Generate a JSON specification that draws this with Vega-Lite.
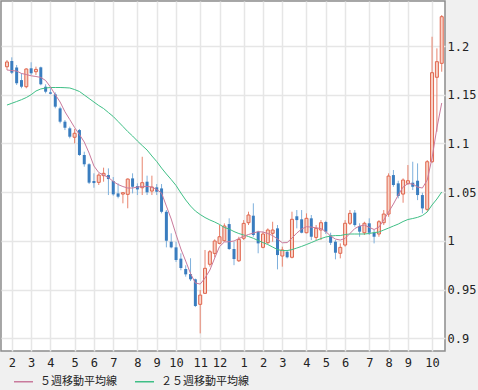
{
  "$schema": "https://vega.github.io/schema/vega-lite/v6.json",
  "width": 444,
  "height": 350,
  "autosize": {"type": "none"},
  "padding": {"left": 1, "top": 1, "right": 33, "bottom": 39},
  "background": "#f0f0f0",
  "config": {
    "view": {"fill": "white", "stroke": "#8c8c8c", "strokeWidth": 1.5},
    "axis": {"labelFont": "DejaVu Sans Mono", "labelFontSize": 12, "labelColor": "#222222", "gridColor": "#e6e6e6", "gridWidth": 1.5, "domain": false, "ticks": false, "tickSize": 0, "title": null}
  },
  "data": {
    "format": {"parse": {"d": "utc:'%Y-%m-%d'"}},
    "values": [
      {"d":"2007-01-29","o":1.1787,"h":1.1856,"l":1.1754,"c":1.1836,"m5":1.1754,"m25":1.1394},
      {"d":"2007-02-05","o":1.1846,"h":1.1884,"l":1.1712,"c":1.1726,"m5":1.1748,"m25":1.1412},
      {"d":"2007-02-12","o":1.1780,"h":1.1805,"l":1.1600,"c":1.1617,"m5":1.1743,"m25":1.1430},
      {"d":"2007-02-19","o":1.1650,"h":1.1720,"l":1.1566,"c":1.1582,"m5":1.1718,"m25":1.1449},
      {"d":"2007-02-26","o":1.1582,"h":1.1771,"l":1.1566,"c":1.1764,"m5":1.1707,"m25":1.1471},
      {"d":"2007-03-05","o":1.1771,"h":1.1833,"l":1.1702,"c":1.1720,"m5":1.1694,"m25":1.1500},
      {"d":"2007-03-12","o":1.1736,"h":1.1788,"l":1.1702,"c":1.1760,"m5":1.1687,"m25":1.1538},
      {"d":"2007-03-19","o":1.1781,"h":1.1788,"l":1.1597,"c":1.1607,"m5":1.1677,"m25":1.1559},
      {"d":"2007-03-26","o":1.1582,"h":1.1607,"l":1.1514,"c":1.1531,"m5":1.1646,"m25":1.1569},
      {"d":"2007-04-02","o":1.1524,"h":1.1566,"l":1.1504,"c":1.1510,"m5":1.1579,"m25":1.1574},
      {"d":"2007-04-09","o":1.1504,"h":1.1524,"l":1.1360,"c":1.1377,"m5":1.1500,"m25":1.1574},
      {"d":"2007-04-16","o":1.1360,"h":1.1377,"l":1.1206,"c":1.1223,"m5":1.1425,"m25":1.1574},
      {"d":"2007-04-23","o":1.1223,"h":1.1240,"l":1.1137,"c":1.1161,"m5":1.1325,"m25":1.1572},
      {"d":"2007-04-30","o":1.1155,"h":1.1172,"l":1.1052,"c":1.1069,"m5":1.1245,"m25":1.1569},
      {"d":"2007-05-07","o":1.1063,"h":1.1148,"l":1.1001,"c":1.1104,"m5":1.1163,"m25":1.1553},
      {"d":"2007-05-14","o":1.1137,"h":1.1148,"l":1.0872,"c":1.0881,"m5":1.1091,"m25":1.1533},
      {"d":"2007-05-21","o":1.0881,"h":1.0915,"l":1.0761,"c":1.0786,"m5":1.1014,"m25":1.1497},
      {"d":"2007-05-28","o":1.0786,"h":1.0797,"l":1.0583,"c":1.0597,"m5":1.0901,"m25":1.1461},
      {"d":"2007-06-04","o":1.0614,"h":1.0693,"l":1.0545,"c":1.0593,"m5":1.0768,"m25":1.1425},
      {"d":"2007-06-11","o":1.0600,"h":1.0693,"l":1.0573,"c":1.0675,"m5":1.0701,"m25":1.1389},
      {"d":"2007-06-18","o":1.0669,"h":1.0751,"l":1.0607,"c":1.0693,"m5":1.0675,"m25":1.1358},
      {"d":"2007-06-25","o":1.0675,"h":1.0744,"l":1.0470,"c":1.0634,"m5":1.0650,"m25":1.1317},
      {"d":"2007-07-02","o":1.0614,"h":1.0655,"l":1.0463,"c":1.0477,"m5":1.0609,"m25":1.1276},
      {"d":"2007-07-09","o":1.0487,"h":1.0590,"l":1.0436,"c":1.0453,"m5":1.0578,"m25":1.1225},
      {"d":"2007-07-16","o":1.0480,"h":1.0497,"l":1.0385,"c":1.0494,"m5":1.0557,"m25":1.1174},
      {"d":"2007-07-23","o":1.0477,"h":1.0641,"l":1.0334,"c":1.0634,"m5":1.0542,"m25":1.1122},
      {"d":"2007-07-30","o":1.0641,"h":1.0693,"l":1.0487,"c":1.0555,"m5":1.0542,"m25":1.1076},
      {"d":"2007-08-06","o":1.0562,"h":1.0590,"l":1.0470,"c":1.0528,"m5":1.0552,"m25":1.1025},
      {"d":"2007-08-13","o":1.0545,"h":1.0863,"l":1.0470,"c":1.0597,"m5":1.0557,"m25":1.0978},
      {"d":"2007-08-20","o":1.0607,"h":1.0669,"l":1.0470,"c":1.0498,"m5":1.0559,"m25":1.0932},
      {"d":"2007-08-27","o":1.0511,"h":1.0669,"l":1.0470,"c":1.0552,"m5":1.0552,"m25":1.0871},
      {"d":"2007-09-03","o":1.0549,"h":1.0583,"l":1.0470,"c":1.0504,"m5":1.0527,"m25":1.0814},
      {"d":"2007-09-10","o":1.0538,"h":1.0583,"l":1.0282,"c":1.0298,"m5":1.0491,"m25":1.0747},
      {"d":"2007-09-17","o":1.0298,"h":1.0316,"l":0.9933,"c":1.0001,"m5":1.0357,"m25":1.0686},
      {"d":"2007-09-24","o":0.9991,"h":1.0077,"l":0.9923,"c":0.9933,"m5":1.0224,"m25":1.0629},
      {"d":"2007-10-01","o":0.9933,"h":0.9991,"l":0.9783,"c":0.9803,"m5":1.0065,"m25":1.0568},
      {"d":"2007-10-08","o":0.9817,"h":0.9872,"l":0.9698,"c":0.9721,"m5":0.9916,"m25":1.0491},
      {"d":"2007-10-15","o":0.9711,"h":0.9749,"l":0.9632,"c":0.9656,"m5":0.9792,"m25":1.0419},
      {"d":"2007-10-22","o":0.9659,"h":0.9821,"l":0.9587,"c":0.9605,"m5":0.9664,"m25":1.0357},
      {"d":"2007-10-29","o":0.9605,"h":0.9612,"l":0.9320,"c":0.9331,"m5":0.9567,"m25":1.0306},
      {"d":"2007-11-05","o":0.9348,"h":0.9495,"l":0.9050,"c":0.9443,"m5":0.9556,"m25":1.0270},
      {"d":"2007-11-12","o":0.9461,"h":0.9906,"l":0.9454,"c":0.9718,"m5":0.9618,"m25":1.0239},
      {"d":"2007-11-19","o":0.9759,"h":0.9906,"l":0.9735,"c":0.9888,"m5":0.9700,"m25":1.0214},
      {"d":"2007-11-26","o":0.9871,"h":1.0015,"l":0.9831,"c":0.9998,"m5":0.9823,"m25":1.0193},
      {"d":"2007-12-03","o":0.9974,"h":1.0162,"l":0.9965,"c":1.0042,"m5":0.9941,"m25":1.0168},
      {"d":"2007-12-10","o":1.0001,"h":1.0179,"l":0.9991,"c":1.0152,"m5":0.9988,"m25":1.0137},
      {"d":"2007-12-17","o":1.0172,"h":1.0231,"l":0.9906,"c":0.9916,"m5":0.9991,"m25":1.0121},
      {"d":"2007-12-24","o":0.9916,"h":0.9991,"l":0.9750,"c":0.9813,"m5":0.9998,"m25":1.0095},
      {"d":"2007-12-31","o":0.9795,"h":1.0042,"l":0.9783,"c":1.0015,"m5":1.0023,"m25":1.0075},
      {"d":"2008-01-07","o":1.0026,"h":1.0213,"l":1.0008,"c":1.0179,"m5":1.0046,"m25":1.0060},
      {"d":"2008-01-14","o":1.0186,"h":1.0299,"l":1.0162,"c":1.0265,"m5":1.0065,"m25":1.0044},
      {"d":"2008-01-21","o":1.0258,"h":1.0385,"l":1.0042,"c":1.0060,"m5":1.0080,"m25":1.0026},
      {"d":"2008-01-28","o":1.0094,"h":1.0104,"l":0.9872,"c":0.9974,"m5":1.0094,"m25":1.0003},
      {"d":"2008-02-04","o":0.9933,"h":1.0094,"l":0.9923,"c":1.0070,"m5":1.0090,"m25":0.9982},
      {"d":"2008-02-11","o":0.9981,"h":1.0128,"l":0.9967,"c":1.0111,"m5":1.0075,"m25":0.9962},
      {"d":"2008-02-18","o":1.0077,"h":1.0196,"l":0.9991,"c":1.0111,"m5":1.0054,"m25":0.9936},
      {"d":"2008-02-25","o":1.0128,"h":1.0162,"l":0.9707,"c":0.9854,"m5":1.0018,"m25":0.9910},
      {"d":"2008-03-03","o":0.9844,"h":0.9940,"l":0.9735,"c":0.9906,"m5":0.9980,"m25":0.9900},
      {"d":"2008-03-10","o":0.9888,"h":0.9906,"l":0.9820,"c":0.9831,"m5":0.9982,"m25":0.9900},
      {"d":"2008-03-17","o":0.9831,"h":1.0299,"l":0.9820,"c":1.0221,"m5":1.0028,"m25":0.9910},
      {"d":"2008-03-24","o":1.0252,"h":1.0316,"l":1.0128,"c":1.0213,"m5":1.0080,"m25":0.9926},
      {"d":"2008-03-31","o":1.0221,"h":1.0316,"l":1.0077,"c":1.0083,"m5":1.0121,"m25":0.9943},
      {"d":"2008-04-07","o":1.0083,"h":1.0282,"l":1.0077,"c":1.0231,"m5":1.0145,"m25":0.9962},
      {"d":"2008-04-14","o":1.0231,"h":1.0265,"l":1.0008,"c":1.0042,"m5":1.0141,"m25":0.9982},
      {"d":"2008-04-21","o":1.0035,"h":1.0162,"l":1.0008,"c":1.0128,"m5":1.0133,"m25":1.0003},
      {"d":"2008-04-28","o":1.0111,"h":1.0213,"l":1.0008,"c":1.0186,"m5":1.0126,"m25":1.0023},
      {"d":"2008-05-05","o":1.0193,"h":1.0206,"l":1.0070,"c":1.0094,"m5":1.0095,"m25":1.0039},
      {"d":"2008-05-12","o":1.0056,"h":1.0083,"l":0.9957,"c":0.9980,"m5":1.0049,"m25":1.0049},
      {"d":"2008-05-19","o":0.9991,"h":1.0008,"l":0.9810,"c":0.9878,"m5":1.0018,"m25":1.0054},
      {"d":"2008-05-26","o":0.9872,"h":0.9974,"l":0.9820,"c":0.9933,"m5":1.0008,"m25":1.0054},
      {"d":"2008-06-02","o":0.9957,"h":1.0213,"l":0.9940,"c":1.0180,"m5":1.0025,"m25":1.0065},
      {"d":"2008-06-09","o":1.0180,"h":1.0316,"l":1.0162,"c":1.0282,"m5":1.0075,"m25":1.0070},
      {"d":"2008-06-16","o":1.0289,"h":1.0316,"l":1.0145,"c":1.0162,"m5":1.0126,"m25":1.0070},
      {"d":"2008-06-23","o":1.0152,"h":1.0180,"l":1.0042,"c":1.0094,"m5":1.0152,"m25":1.0070},
      {"d":"2008-06-30","o":1.0083,"h":1.0196,"l":1.0060,"c":1.0180,"m5":1.0162,"m25":1.0070},
      {"d":"2008-07-07","o":1.0180,"h":1.0231,"l":1.0060,"c":1.0083,"m5":1.0138,"m25":1.0075},
      {"d":"2008-07-14","o":1.0083,"h":1.0111,"l":0.9974,"c":1.0042,"m5":1.0116,"m25":1.0085},
      {"d":"2008-07-21","o":1.0070,"h":1.0213,"l":1.0042,"c":1.0196,"m5":1.0141,"m25":1.0090},
      {"d":"2008-07-28","o":1.0186,"h":1.0316,"l":1.0162,"c":1.0275,"m5":1.0213,"m25":1.0111},
      {"d":"2008-08-04","o":1.0275,"h":1.0693,"l":1.0247,"c":1.0665,"m5":1.0296,"m25":1.0131},
      {"d":"2008-08-11","o":1.0675,"h":1.0727,"l":1.0555,"c":1.0573,"m5":1.0378,"m25":1.0152},
      {"d":"2008-08-18","o":1.0590,"h":1.0617,"l":1.0436,"c":1.0460,"m5":1.0470,"m25":1.0172},
      {"d":"2008-08-25","o":1.0480,"h":1.0641,"l":1.0391,"c":1.0624,"m5":1.0552,"m25":1.0198},
      {"d":"2008-09-01","o":1.0590,"h":1.0778,"l":1.0573,"c":1.0617,"m5":1.0588,"m25":1.0219},
      {"d":"2008-09-08","o":1.0597,"h":1.0812,"l":1.0521,"c":1.0555,"m5":1.0583,"m25":1.0229},
      {"d":"2008-09-15","o":1.0617,"h":1.0795,"l":1.0418,"c":1.0470,"m5":1.0552,"m25":1.0241},
      {"d":"2008-09-22","o":1.0470,"h":1.0494,"l":1.0282,"c":1.0333,"m5":1.0542,"m25":1.0260},
      {"d":"2008-09-29","o":1.0323,"h":1.0829,"l":1.0299,"c":1.0812,"m5":1.0624,"m25":1.0296},
      {"d":"2008-10-06","o":1.0812,"h":1.2095,"l":1.0799,"c":1.1726,"m5":1.0850,"m25":1.0368},
      {"d":"2008-10-13","o":1.1679,"h":1.1976,"l":1.1120,"c":1.1839,"m5":1.1158,"m25":1.0429},
      {"d":"2008-10-20","o":1.1822,"h":1.2318,"l":1.1736,"c":1.2301,"m5":1.1415,"m25":1.0501}
    ]
  },
  "encoding": {
    "x": {
      "field": "d", "type": "temporal",
      "scale": {"type": "utc", "domain": [1169280000000, 1224871200000], "nice": false, "padding": 0},
      "axis": {
        "orient": "bottom", "grid": true, "labelExpr": "utcFormat(datum.value, '%-m')", "labelPadding": 6, "labelFlush": false, "labelOverlap": false,
        "values": [1170633600000, 1173052800000, 1175472000000, 1178496000000, 1180915200000, 1183334400000, 1186358400000, 1188777600000, 1191196800000, 1194220800000, 1196640000000, 1199664000000, 1202083200000, 1204502400000, 1207526400000, 1209945600000, 1212364800000, 1215388800000, 1217808000000, 1220227200000, 1223251200000]
      }
    }
  },
  "layer": [
    {
      "mark": {"type": "rule", "strokeWidth": 1},
      "encoding": {
        "y": {
          "field": "l", "type": "quantitative",
          "scale": {"domain": [0.8869, 1.2462], "nice": false, "zero": false, "padding": 0},
          "axis": {"orient": "right", "grid": true, "values": [0.9, 0.95, 1, 1.05, 1.1, 1.15, 1.2], "format": ".2~f", "labelPadding": 2, "labelFlush": false, "labelOverlap": false}
        },
        "y2": {"field": "h"},
        "stroke": {"condition": {"test": "datum.c >= datum.o", "value": "#e8846e"}, "value": "#7eb0dc"}
      }
    },
    {
      "mark": {"type": "bar", "size": 3},
      "encoding": {
        "y": {"field": "o", "type": "quantitative"},
        "y2": {"field": "c"},
        "fill": {"condition": {"test": "datum.c >= datum.o", "value": "#f8d2c6"}, "value": "#3a7dbf"},
        "stroke": {"condition": {"test": "datum.c >= datum.o", "value": "#e0664e"}, "value": "#3a7dbf"},
        "strokeWidth": {"condition": {"test": "datum.c >= datum.o", "value": 1}, "value": 0}
      }
    },
    {
      "mark": {"type": "line", "strokeWidth": 1},
      "encoding": {
        "y": {"field": "m25", "type": "quantitative"},
        "color": {
          "datum": "２５週移動平均線",
          "scale": {"domain": ["５週移動平均線", "２５週移動平均線"], "range": ["#c97a9c", "#3fbf86"]},
          "legend": {
            "orient": "none", "legendX": 12, "legendY": 370, "direction": "horizontal", "title": null,
            "symbolType": "stroke", "symbolSize": 361, "symbolStrokeWidth": 1.5,
            "labelFont": "Noto Sans CJK JP", "labelFontSize": 11, "labelColor": "#222222",
            "labelOffset": 6, "columnPadding": 15
          }
        }
      }
    },
    {
      "mark": {"type": "line", "strokeWidth": 1},
      "encoding": {
        "y": {"field": "m5", "type": "quantitative"},
        "color": {"datum": "５週移動平均線"}
      }
    },
    {
      "data": {"values": [{"t": "週足"}]},
      "mark": {"type": "text", "align": "left", "baseline": "middle", "font": "Noto Sans CJK JP", "fontSize": 11, "color": "#3aaee6"},
      "encoding": {
        "x": {"datum": 1170745200000, "type": "temporal"},
        "y": {"datum": 1.2375, "type": "quantitative"},
        "text": {"field": "t"}
      }
    }
  ]
}
